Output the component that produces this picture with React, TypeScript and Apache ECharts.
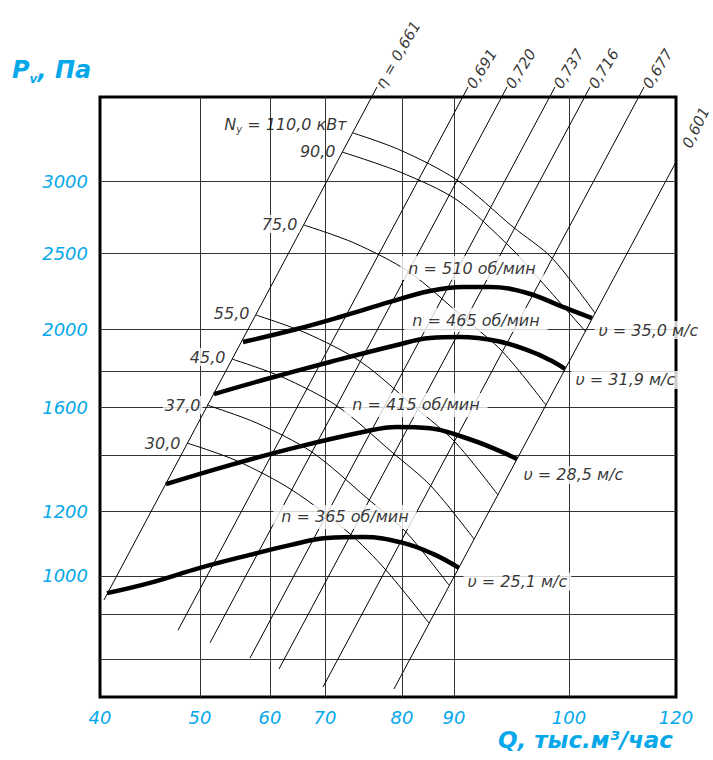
import React, { useEffect, useRef } from 'react';
import * as echarts from 'echarts';

// ---- axis scale (the reference axes are hand-drawn, non-uniform) ----
const Q_TICKS = [40, 50, 60, 70, 80, 90, 100, 120];
const X_STOPS = [0, 173.6, 295.1, 390.6, 524.3, 614.6, 814.2, 1000];
const P_GRID = [720, 800, 900, 1000, 1200, 1400, 1600, 1800, 2000, 2500, 3000, 3750];
const Y_STOPS = [0, 63.3, 138.3, 201.7, 310, 403.3, 483.3, 543.3, 613.3, 740, 860, 1000];
const P_LABELS = [1000, 1200, 1600, 2000, 2500, 3000];

// ---- fan speed curves  [Q thousand m3/h, Pv Pa] ----
const SPEEDS = [510, 465, 415, 365];
const N510 = [[56.14, 1938], [64.91, 2000], [71.95, 2079], [78.44, 2178], [85.38, 2250], [90.78, 2276], [93.13, 2276], [96.35, 2237], [99.48, 2145], [104.3, 2072]];
const N465 = [[52.0, 1672], [59.0, 1750], [70.65, 1843], [79.35, 1924], [85.38, 1957], [90.52, 1962], [93.74, 1943], [96.61, 1895], [98.35, 1852], [99.65, 1810]];
const N415 = [[46.6, 1296], [54.29, 1364], [64.91, 1433], [74.94, 1496], [79.35, 1517], [85.38, 1512], [90.78, 1475], [93.39, 1429], [95.48, 1386]];
const N365 = [[40.7, 955], [45.0, 982], [50.0, 1025], [57.14, 1065], [63.64, 1095], [70.26, 1117], [74.94, 1120], [80.19, 1102], [85.96, 1068], [90.43, 1025]];
const VELOCITY = ['35,0', '31,9', '28,5', '25,1'];

// ---- power curves ----
const POWER_KW = ['110,0', '90,0', '75,0', '55,0', '45,0', '37,0', '30,0'];
const POW110 = [[73.64, 3429], [79.74, 3277], [90.26, 3009], [95.13, 2681], [98.52, 2467], [104.86, 2105]];
const POW90 = [[72.21, 3259], [79.74, 3080], [90.26, 2868], [94.87, 2542], [97.48, 2322], [103.18, 1986]];
const POW75 = [[66.18, 2694], [73.77, 2570], [81.35, 2375], [90.87, 2072], [94.26, 1890], [98.0, 1611]];
const POW55 = [[58.0, 2092], [66.55, 1981], [74.68, 1843], [82.69, 1596], [90.09, 1454], [93.83, 1257]];
const POW45 = [[54.57, 1857], [62.18, 1767], [71.56, 1606], [78.7, 1412], [85.58, 1289], [91.74, 1114]];
const POW37 = [[51.0, 1611], [58.14, 1533], [67.64, 1412], [75.45, 1246], [80.77, 1135], [89.04, 976]];
const POW30 = [[48.7, 1450], [55.29, 1379], [64.0, 1275], [72.99, 1135], [77.92, 1018], [85.19, 880]];

// ---- efficiency lines ----
const ETA = ['0,661', '0,691', '0,720', '0,737', '0,716', '0,677', '0,601'];
const ETA_TOP = [[76.75, 3839], [91.22, 3839], [94.61, 3839], [98.78, 3839], [103.93, 3839], [114.02, 3839], [121.5, 3304]];
const ETA_BOTTOM = [[40.4, 937], [47.8, 864], [51.43, 836], [57.14, 802], [61.64, 779], [69.64, 741], [78.96, 737]];

// ---- layout / style ----
const CYAN = '#06A8EA';
const FONT = "'DejaVu Sans', sans-serif";
const SPEED_ANCHOR = [5, 5, 4, 5];
const SPEED_OFFSET = [[9, -19], [16, -17], [19, -22], [18, -21]];
const VEL_OFFSET = [[2, 12], [6, 11], [2, 16], [4, 14]];
const POWER_DY = [-8, 0, -1, -2, -2, 0, 0];
const POWER_BG = [false, false, true, true, true, true, true];
const ETA_ROTATE = [60, 58, 58, 58, 58, 58, 64];

function warp(v: number, vals: number[], stops: number[]) {
  let i = 0;
  while (i < vals.length - 2 && v > vals[i + 1]) i++;
  const t = (v - vals[i]) / (vals[i + 1] - vals[i]);
  return stops[i] + t * (stops[i + 1] - stops[i]);
}
const toXY = (p: number[]) => [warp(p[0], Q_TICKS, X_STOPS), warp(p[1], P_GRID, Y_STOPS)];
const nearest = (v: number, stops: number[]) => {
  let best = 0;
  stops.forEach((s, i) => { if (Math.abs(s - v) < Math.abs(stops[best] - v)) best = i; });
  return best;
};

const txt = { fontFamily: FONT, fontStyle: 'italic', fontSize: 16, color: '#000' };

function buildOption() {
  const speedCurves = [N510, N465, N415, N365];
  const powerCurves = [POW110, POW90, POW75, POW55, POW45, POW37, POW30];
  const series: any[] = [];

  ETA.forEach((_, i) => {
    series.push({
      type: 'line', silent: true, clip: false, symbol: 'none', z: 3,
      data: [toXY(ETA_BOTTOM[i]), toXY(ETA_TOP[i])],
      lineStyle: { color: '#000', width: 1 },
    });
  });
  powerCurves.forEach((c) => {
    series.push({
      type: 'line', silent: true, clip: false, symbol: 'none', smooth: 0.3, z: 3,
      data: c.map(toXY),
      lineStyle: { color: '#000', width: 1 },
    });
  });
  speedCurves.forEach((c) => {
    series.push({
      type: 'line', silent: true, clip: false, symbol: 'none', smooth: 0.4, z: 4,
      data: c.map(toXY),
      lineStyle: { color: '#000', width: 4.5, cap: 'butt' },
    });
  });

  const labels: any[] = [];
  ETA.forEach((t, i) => {
    labels.push({
      value: toXY(ETA_TOP[i]),
      label: { show: true, formatter: i === 0 ? 'η = ' + t : t, position: 'right', distance: 2, rotate: ETA_ROTATE[i], ...txt, fontSize: 15 },
    });
  });
  powerCurves.forEach((c, i) => {
    const rich = {
      n: { ...txt, lineHeight: 20 },
      s: { ...txt, fontSize: 10, verticalAlign: 'bottom', lineHeight: 20 },
    };
    labels.push({
      value: toXY(c[0]),
      label: {
        show: true,
        formatter: i === 0 ? '{n|N}{s|у}{n| = ' + POWER_KW[i] + ' кВт}' : POWER_KW[i],
        rich: i === 0 ? rich : undefined,
        position: 'left', distance: 4, offset: [0, POWER_DY[i]],
        backgroundColor: POWER_BG[i] ? '#fff' : 'transparent', padding: [1, 2],
        ...txt,
      },
    });
  });
  speedCurves.forEach((c, i) => {
    labels.push({
      value: toXY(c[SPEED_ANCHOR[i]]),
      label: {
        show: true, formatter: 'n = ' + SPEEDS[i] + ' об/мин', position: 'inside',
        offset: SPEED_OFFSET[i], backgroundColor: '#fff', padding: [4, 8], ...txt,
      },
    });
    labels.push({
      value: toXY(c[c.length - 1]),
      label: {
        show: true, formatter: 'υ = ' + VELOCITY[i] + ' м/с', position: 'right', distance: 0,
        offset: VEL_OFFSET[i], backgroundColor: '#fff', padding: [1, 4], ...txt,
      },
    });
  });
  series.push({
    type: 'scatter', silent: true, clip: false, z: 10, symbolSize: 1,
    itemStyle: { color: 'rgba(0,0,0,0)' },
    data: labels,
  });

  const axisText = { color: CYAN, fontFamily: FONT, fontStyle: 'italic', fontSize: 18 };

  return {
    animation: false,
    backgroundColor: '#fff',
    grid: { left: 100, right: 37, top: 97, bottom: 63, show: true, borderColor: '#000', borderWidth: 3, backgroundColor: 'transparent' },
    xAxis: {
      type: 'value', min: 0, max: 1000,
      axisLine: { show: false },
      axisTick: { show: false, customValues: Q_TICKS.slice(1, -1).map((q) => warp(q, Q_TICKS, X_STOPS)) },
      splitLine: { show: true, lineStyle: { color: '#333', width: 1 } },
      axisLabel: {
        customValues: X_STOPS.slice(),
        formatter: (v: number) => String(Q_TICKS[nearest(v, X_STOPS)]),
        margin: 11, ...axisText,
      },
    },
    yAxis: {
      type: 'value', min: 0, max: 1000,
      axisLine: { show: false },
      axisTick: { show: false, customValues: P_GRID.slice(1, -1).map((p) => warp(p, P_GRID, Y_STOPS)) },
      splitLine: { show: true, lineStyle: { color: '#333', width: 1 } },
      axisLabel: {
        customValues: P_LABELS.map((p) => warp(p, P_GRID, Y_STOPS)),
        formatter: (v: number) => String(P_GRID[nearest(v, Y_STOPS)]),
        margin: 12, ...axisText,
      },
    },
    graphic: [
      {
        type: 'text', left: 12, top: 58,
        style: {
          text: '{a|P}{b|v}{a|, Па}',
          rich: {
            a: { fill: CYAN, fontFamily: FONT, fontStyle: 'italic', fontWeight: 'bold', fontSize: 24, lineHeight: 30 },
            b: { fill: CYAN, fontFamily: FONT, fontStyle: 'italic', fontWeight: 'bold', fontSize: 12, lineHeight: 30, verticalAlign: 'bottom' },
          },
        },
      },
      {
        type: 'text', right: 40, top: 728,
        style: {
          text: 'Q, тыс.м³/час', fill: CYAN, fontFamily: FONT, fontStyle: 'italic', fontWeight: 'bold', fontSize: 23,
        },
      },
    ],
    series,
  };
}

export default function App() {
  const ref = useRef<HTMLDivElement>(null);
  useEffect(() => {
    const chart = echarts.init(ref.current!, null, { renderer: 'svg' });
    chart.setOption(buildOption() as any);
    return () => chart.dispose();
  }, []);
  return <div ref={ref} style={{ position: 'absolute', left: 0, top: 0, width: 713, height: 760 }} />;
}
